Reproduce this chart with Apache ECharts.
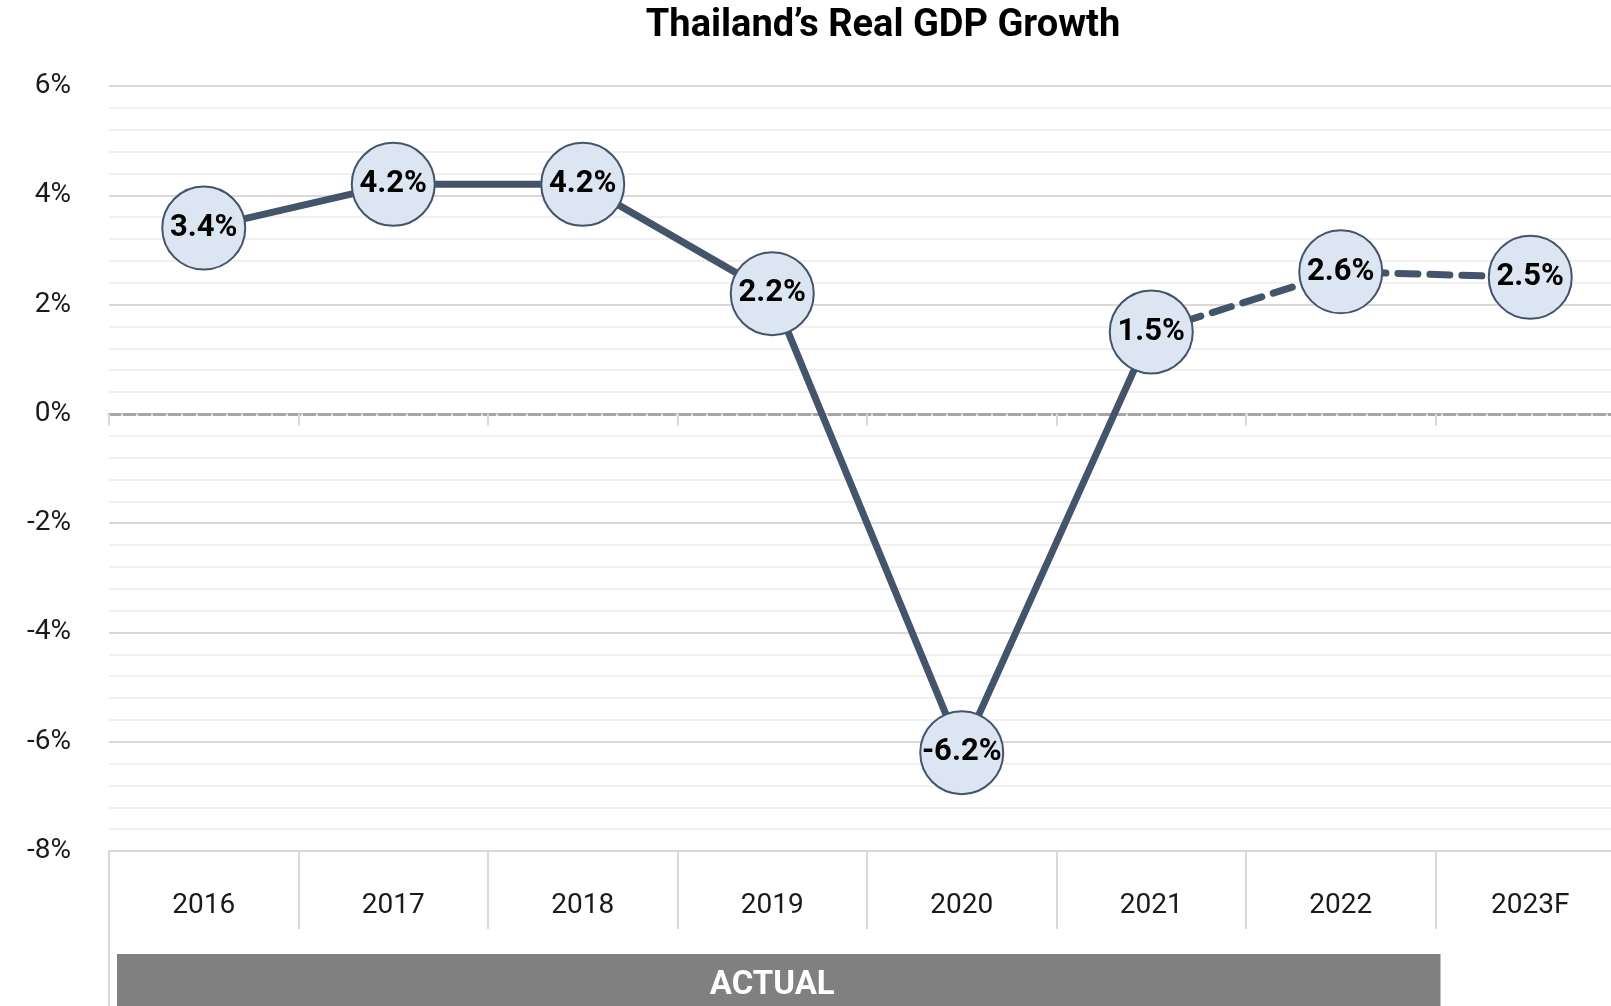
<!DOCTYPE html>
<html>
<head>
<meta charset="utf-8">
<script src="https://cdn.jsdelivr.net/npm/echarts@6/dist/echarts.min.js"></script>
<style>
  html, body { margin: 0; padding: 0; background: #fff; }
  #chart { width: 1611px; height: 1006px; }
</style>
</head>
<body>
<div id="chart"></div>
<script>
const titleText = 'Thailand\u2019s Real GDP Growth';
const categories = ['2016', '2017', '2018', '2019', '2020', '2021', '2022', '2023F'];
const growth = [3.4, 4.2, 4.2, 2.2, -6.2, 1.5, 2.6, 2.5];
const actualValues = [3.4, 4.2, 4.2, 2.2, -6.2, 1.5, '-', '-'];
const forecastValues = ['-', '-', '-', '-', '-', 1.5, 2.6, 2.5];
const yMin = -8, yMax = 6, yInterval = 2;
const actualSpan = ['2016', '2022'];
const actualLabel = 'ACTUAL';

const FONT = 'Roboto, "Noto Sans", sans-serif';
const chart = echarts.init(document.getElementById('chart'));

chart.setOption({
  animation: false,
  backgroundColor: '#ffffff',
  grid: { left: 109, top: 86, width: 1516, height: 765, containLabel: false, outerBoundsMode: 'none' },
  xAxis: [
    {
      type: 'category',
      data: categories,
      position: 'bottom',
      boundaryGap: true,
      axisLine: { onZero: false, lineStyle: { color: '#d9d9d9', width: 2 } },
      axisTick: { show: true, length: 78, lineStyle: { color: '#d9d9d9', width: 2 } },
      axisLabel: { color: '#1a1a1a', fontSize: 28, fontFamily: FONT, margin: 41 },
      splitLine: { show: false }
    },
    {
      type: 'category',
      data: categories,
      position: 'top',
      boundaryGap: true,
      axisLine: { onZero: true, lineStyle: { color: '#a6a6a6', width: 3, type: [11, 4] } },
      axisTick: { show: true, inside: true, length: 12, lineStyle: { color: '#d9d9d9', width: 2 } },
      axisLabel: { show: false },
      splitLine: { show: false }
    }
  ],
  yAxis: {
    type: 'value',
    min: yMin, max: yMax, interval: yInterval,
    axisLine: { show: false },
    axisTick: { show: false },
    axisLabel: { formatter: '{value}%', color: '#1a1a1a', fontSize: 28, fontFamily: FONT, margin: 38 },
    splitLine: { show: true, lineStyle: { color: '#d9d9d9', width: 2 } },
    minorTick: { show: false, splitNumber: 5 },
    minorSplitLine: { show: true, lineStyle: { color: '#f0f0f0', width: 2 } }
  },
  series: [
    {
      type: 'line', data: actualValues, xAxisIndex: 0, symbol: 'none', z: 3,
      lineStyle: { color: '#44546a', width: 7, cap: 'round', join: 'round' }
    },
    {
      type: 'line', data: forecastValues, xAxisIndex: 0, symbol: 'none', z: 3,
      lineStyle: { color: '#44546a', width: 7, type: [20, 12], cap: 'round' }
    },
    {
      type: 'scatter', data: growth, xAxisIndex: 0, symbol: 'circle', symbolSize: 83, z: 5,
      itemStyle: { color: '#dce6f2', borderColor: '#44546a', borderWidth: 2, opacity: 1 },
      emphasis: { disabled: true },
      label: {
        show: true, position: 'inside', color: '#000', fontWeight: 'bold',
        fontSize: 31, fontFamily: FONT,
        formatter: p => p.value.toFixed(1) + '%'
      }
    }
  ]
});

function drawExtras() {
  const c0 = chart.convertToPixel({ xAxisIndex: 0 }, categories[0]);
  const c1 = chart.convertToPixel({ xAxisIndex: 0 }, categories[1]);
  const bandW = c1 - c0;
  const xa = chart.convertToPixel({ xAxisIndex: 0 }, actualSpan[0]) - bandW / 2;
  const xb = chart.convertToPixel({ xAxisIndex: 0 }, actualSpan[1]) + bandW / 2;
  const yBottom = chart.convertToPixel({ yAxisIndex: 0 }, yMin);
  const xMid = (xa + xb) / 2;
  chart.setOption({
    graphic: [
      {
        type: 'text', x: 883, y: 26, silent: true,
        style: {
          text: titleText, align: 'center', verticalAlign: 'middle',
          fill: '#000', font: 'bold 38px ' + FONT
        }
      },
      {
        type: 'line', silent: true,
        shape: { x1: xa, y1: yBottom, x2: xa, y2: 1006 },
        style: { stroke: '#d9d9d9', lineWidth: 2 }
      },
      {
        type: 'rect', silent: true,
        shape: { x: xa + 8, y: yBottom + 103, width: (xb + 5) - (xa + 8), height: 60 },
        style: { fill: '#808080' }
      },
      {
        type: 'text', silent: true, x: xMid, y: yBottom + 135,
        style: {
          text: actualLabel, align: 'center', verticalAlign: 'middle',
          fill: '#ffffff', font: 'bold 33px ' + FONT
        }
      }
    ]
  });
}
drawExtras();
</script>
</body>
</html>
